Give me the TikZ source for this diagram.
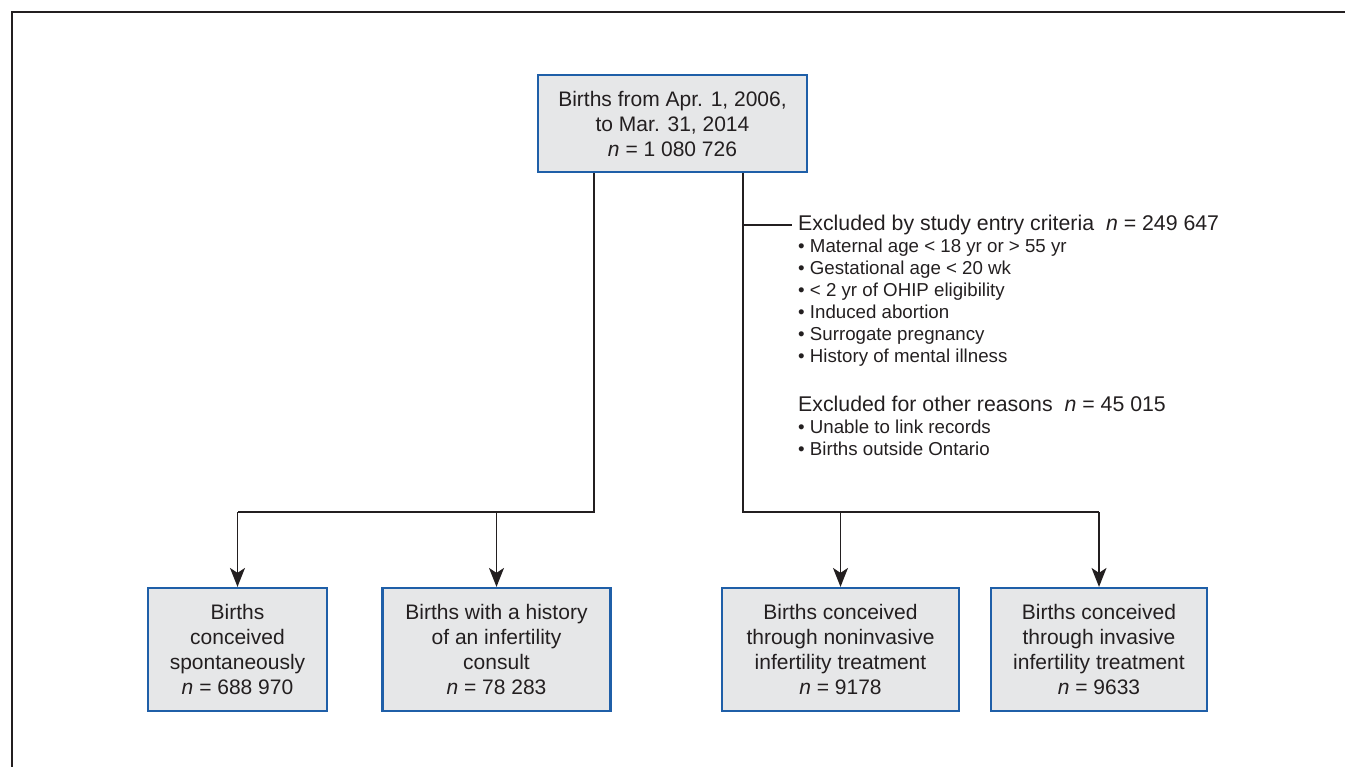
\documentclass[tikz,border=0pt]{standalone}
\usepackage{fontspec}
\setmainfont{Liberation Sans}
\usetikzlibrary{arrows.meta}
\definecolor{boxblue}{RGB}{31,95,168}
\definecolor{boxgrey}{RGB}{230,231,232}
\definecolor{ink}{RGB}{35,31,32}
\begin{document}
\begin{tikzpicture}[x=1pt,y=-1pt,
  box/.style={draw=boxblue, line width=2.2pt, fill=boxgrey, text=ink, align=center,
    inner sep=0pt, minimum height=123pt, font=\fontsize{21}{25}\selectfont},
  conn/.style={draw=ink, line width=1.5pt},
  arr/.style={conn, -{Stealth[length=19pt,width=15pt,inset=5pt]}},
  hd/.style={anchor=base west, inner sep=0pt, text=ink, font=\fontsize{21.3}{25}\selectfont},
  bl/.style={anchor=base west, inner sep=0pt, text=ink, font=\fontsize{18.7}{22}\selectfont}]
\useasboundingbox (0,0) rectangle (1345,767);
\draw[line width=2pt, ink] (1345,12) -- (12.3,12) -- (12.3,767);

% boxes
\node[box, minimum width=269pt, minimum height=97pt] (top) at (672.5,123.5)
  {Births from Apr. 1, 2006,\\ to Mar. 31, 2014\\ \textit{n} = 1 080 726};
\node[box, minimum width=179pt] (b1) at (237.5,649.5)
  {Births\\ conceived\\ spontaneously\\ \textit{n} = 688 970};
\node[box, minimum width=228pt] (b2) at (496.5,649.5)
  {Births with a history\\ of an infertility\\ consult\\ \textit{n} = 78 283};
\node[box, minimum width=237pt] (b3) at (840.5,649.5)
  {Births conceived\\ through noninvasive\\ infertility treatment\\ \textit{n} = 9178};
\node[box, minimum width=216pt] (b4) at (1099,649.5)
  {Births conceived\\ through invasive\\ infertility treatment\\ \textit{n} = 9633};

% junctions
\coordinate (jl) at (594,512);
\coordinate (jr) at (743,512);
\coordinate (ex) at (743,225);
\coordinate (exend) at (792,225);

\draw[conn] (top.south -| jl) -- (jl) -- (b1.north |- jl);
\draw[arr] (b1.north |- jl) -- (b1.north);
\draw[arr] (b2.north |- jl) -- (b2.north);
\draw[conn] (top.south -| jr) -- (jr) -- (b4.north |- jr);
\draw[arr] (b3.north |- jr) -- (b3.north);
\draw[arr] (b4.north |- jr) -- (b4.north);
\draw[conn] (ex) -- (exend);

% exclusion texts
\node[hd] (exA) at (798,231) {Excluded by study entry criteria\ \ \textit{n} = 249 647};
\node[bl] (exA1) at (798,252.5) {• Maternal age < 18 yr or > 55 yr};
\node[bl] (exA2) at (798,274.5) {• Gestational age < 20 wk};
\node[bl] (exA3) at (798,296.5) {• < 2 yr of OHIP eligibility};
\node[bl] (exA4) at (798,318.5) {• Induced abortion};
\node[bl] (exA5) at (798,340.5) {• Surrogate pregnancy};
\node[bl] (exA6) at (798,362.5) {• History of mental illness};
\node[hd] (exB) at (798,411.5) {Excluded for other reasons\ \ \textit{n} = 45 015};
\node[bl] (exB1) at (798,433.5) {• Unable to link records};
\node[bl] (exB2) at (798,456) {• Births outside Ontario};
\end{tikzpicture}
\end{document}
